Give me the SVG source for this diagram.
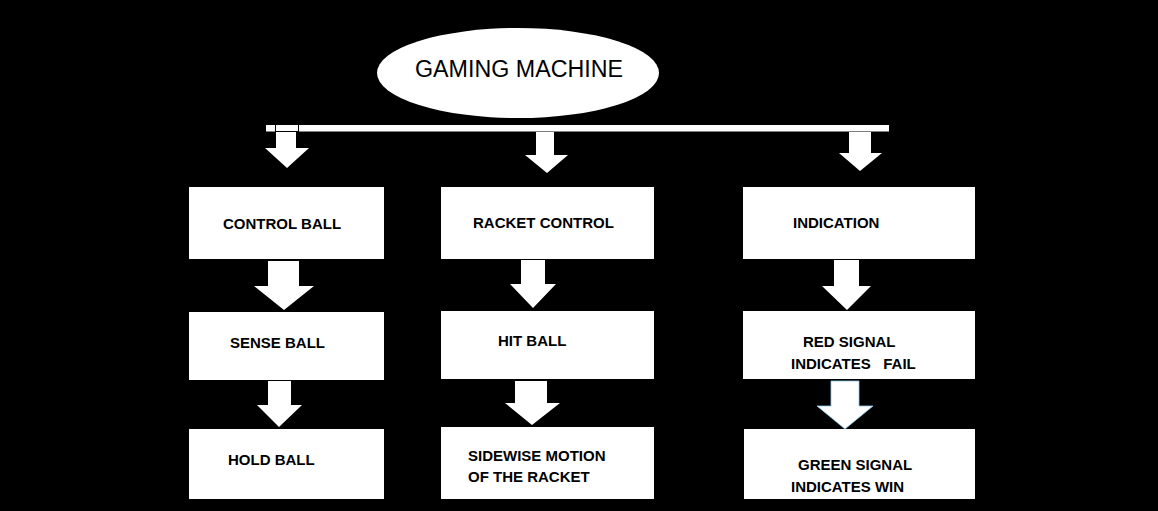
<svg xmlns="http://www.w3.org/2000/svg" width="1158" height="511" viewBox="0 0 1158 511">
<style>
.box{fill:#fff}
.arr{fill:#fff}
.lbl{font-family:"Liberation Sans",Arial,sans-serif;font-weight:bold;font-size:15px;fill:#000;white-space:pre}
.title{font-family:"Liberation Sans",Arial,sans-serif;font-size:23px;fill:#000}
</style>
<rect x="0" y="0" width="1158" height="511" fill="#000"/>
<g id="gaming-machine">
<ellipse cx="518" cy="73" rx="141" ry="45" fill="#fff"/>
<text class="title" x="415" y="77" textLength="208" lengthAdjust="spacingAndGlyphs">GAMING MACHINE</text>
</g>
<g id="connectors">
<rect x="266" y="125" width="623" height="6.5" fill="#fff"/>
<rect x="275.5" y="124.5" width="23" height="7" fill="#fff" stroke="#000" stroke-width="1"/>
<path class="arr" d="M276 132 H296 V148 H309 L287 168 L265 148 H276 Z"/>
<path class="arr" d="M536 132 H554 V155 H568 L547 173 L525 155 H536 Z"/>
<path class="arr" d="M849 132 H871 V153 H882 L860 171 L839 153 H849 Z"/>
<path class="arr" d="M268 261 H299 V286 H314 L284 310 L254 286 H268 Z"/>
<path class="arr" d="M268 381 H291 V405 H302 L279 427 L257 405 H268 Z"/>
<path class="arr" d="M521 260 H545 V284 H556 L533 308 L510 284 H521 Z"/>
<path class="arr" d="M515 381 H547 V403 H560 L532 425 L505 403 H515 Z"/>
<path class="arr" d="M834 260 H859 V286 H871 L847 310 L822 286 H834 Z"/>
<path class="arr" d="M831 381 H859 V406 H873 L845 429 L817 406 H831 Z" stroke="#8cc8ee" stroke-width="0.8"/>
</g>
<g id="control-ball">
<rect class="box" x="189" y="187" width="195" height="72"/>
<text class="lbl" x="223" y="229">CONTROL BALL</text>
</g>
<g id="sense-ball">
<rect class="box" x="189" y="312" width="195" height="68"/>
<text class="lbl" x="230" y="348">SENSE BALL</text>
</g>
<g id="hold-ball">
<rect class="box" x="189" y="429" width="195" height="70"/>
<text class="lbl" x="228" y="465">HOLD BALL</text>
</g>
<g id="racket-control">
<rect class="box" x="441" y="187" width="213" height="72"/>
<text class="lbl" x="473" y="228">RACKET CONTROL</text>
</g>
<g id="hit-ball">
<rect class="box" x="441" y="311" width="213" height="68"/>
<text class="lbl" x="498" y="346">HIT BALL</text>
</g>
<g id="sidewise-motion">
<rect class="box" x="441" y="427" width="213" height="72"/>
<text class="lbl" x="468" y="461">SIDEWISE MOTION</text>
<text class="lbl" x="468" y="482">OF THE RACKET</text>
</g>
<g id="indication">
<rect class="box" x="743" y="187" width="232" height="72"/>
<text class="lbl" x="793" y="228">INDICATION</text>
</g>
<g id="red-signal">
<rect class="box" x="743" y="311" width="232" height="68"/>
<text class="lbl" x="803" y="347">RED SIGNAL</text>
<text class="lbl" x="791" y="369">INDICATES   FAIL</text>
</g>
<g id="green-signal">
<rect class="box" x="744" y="429" width="231" height="70"/>
<text class="lbl" x="798" y="470">GREEN SIGNAL</text>
<text class="lbl" x="791" y="492">INDICATES WIN</text>
</g>
</svg>
